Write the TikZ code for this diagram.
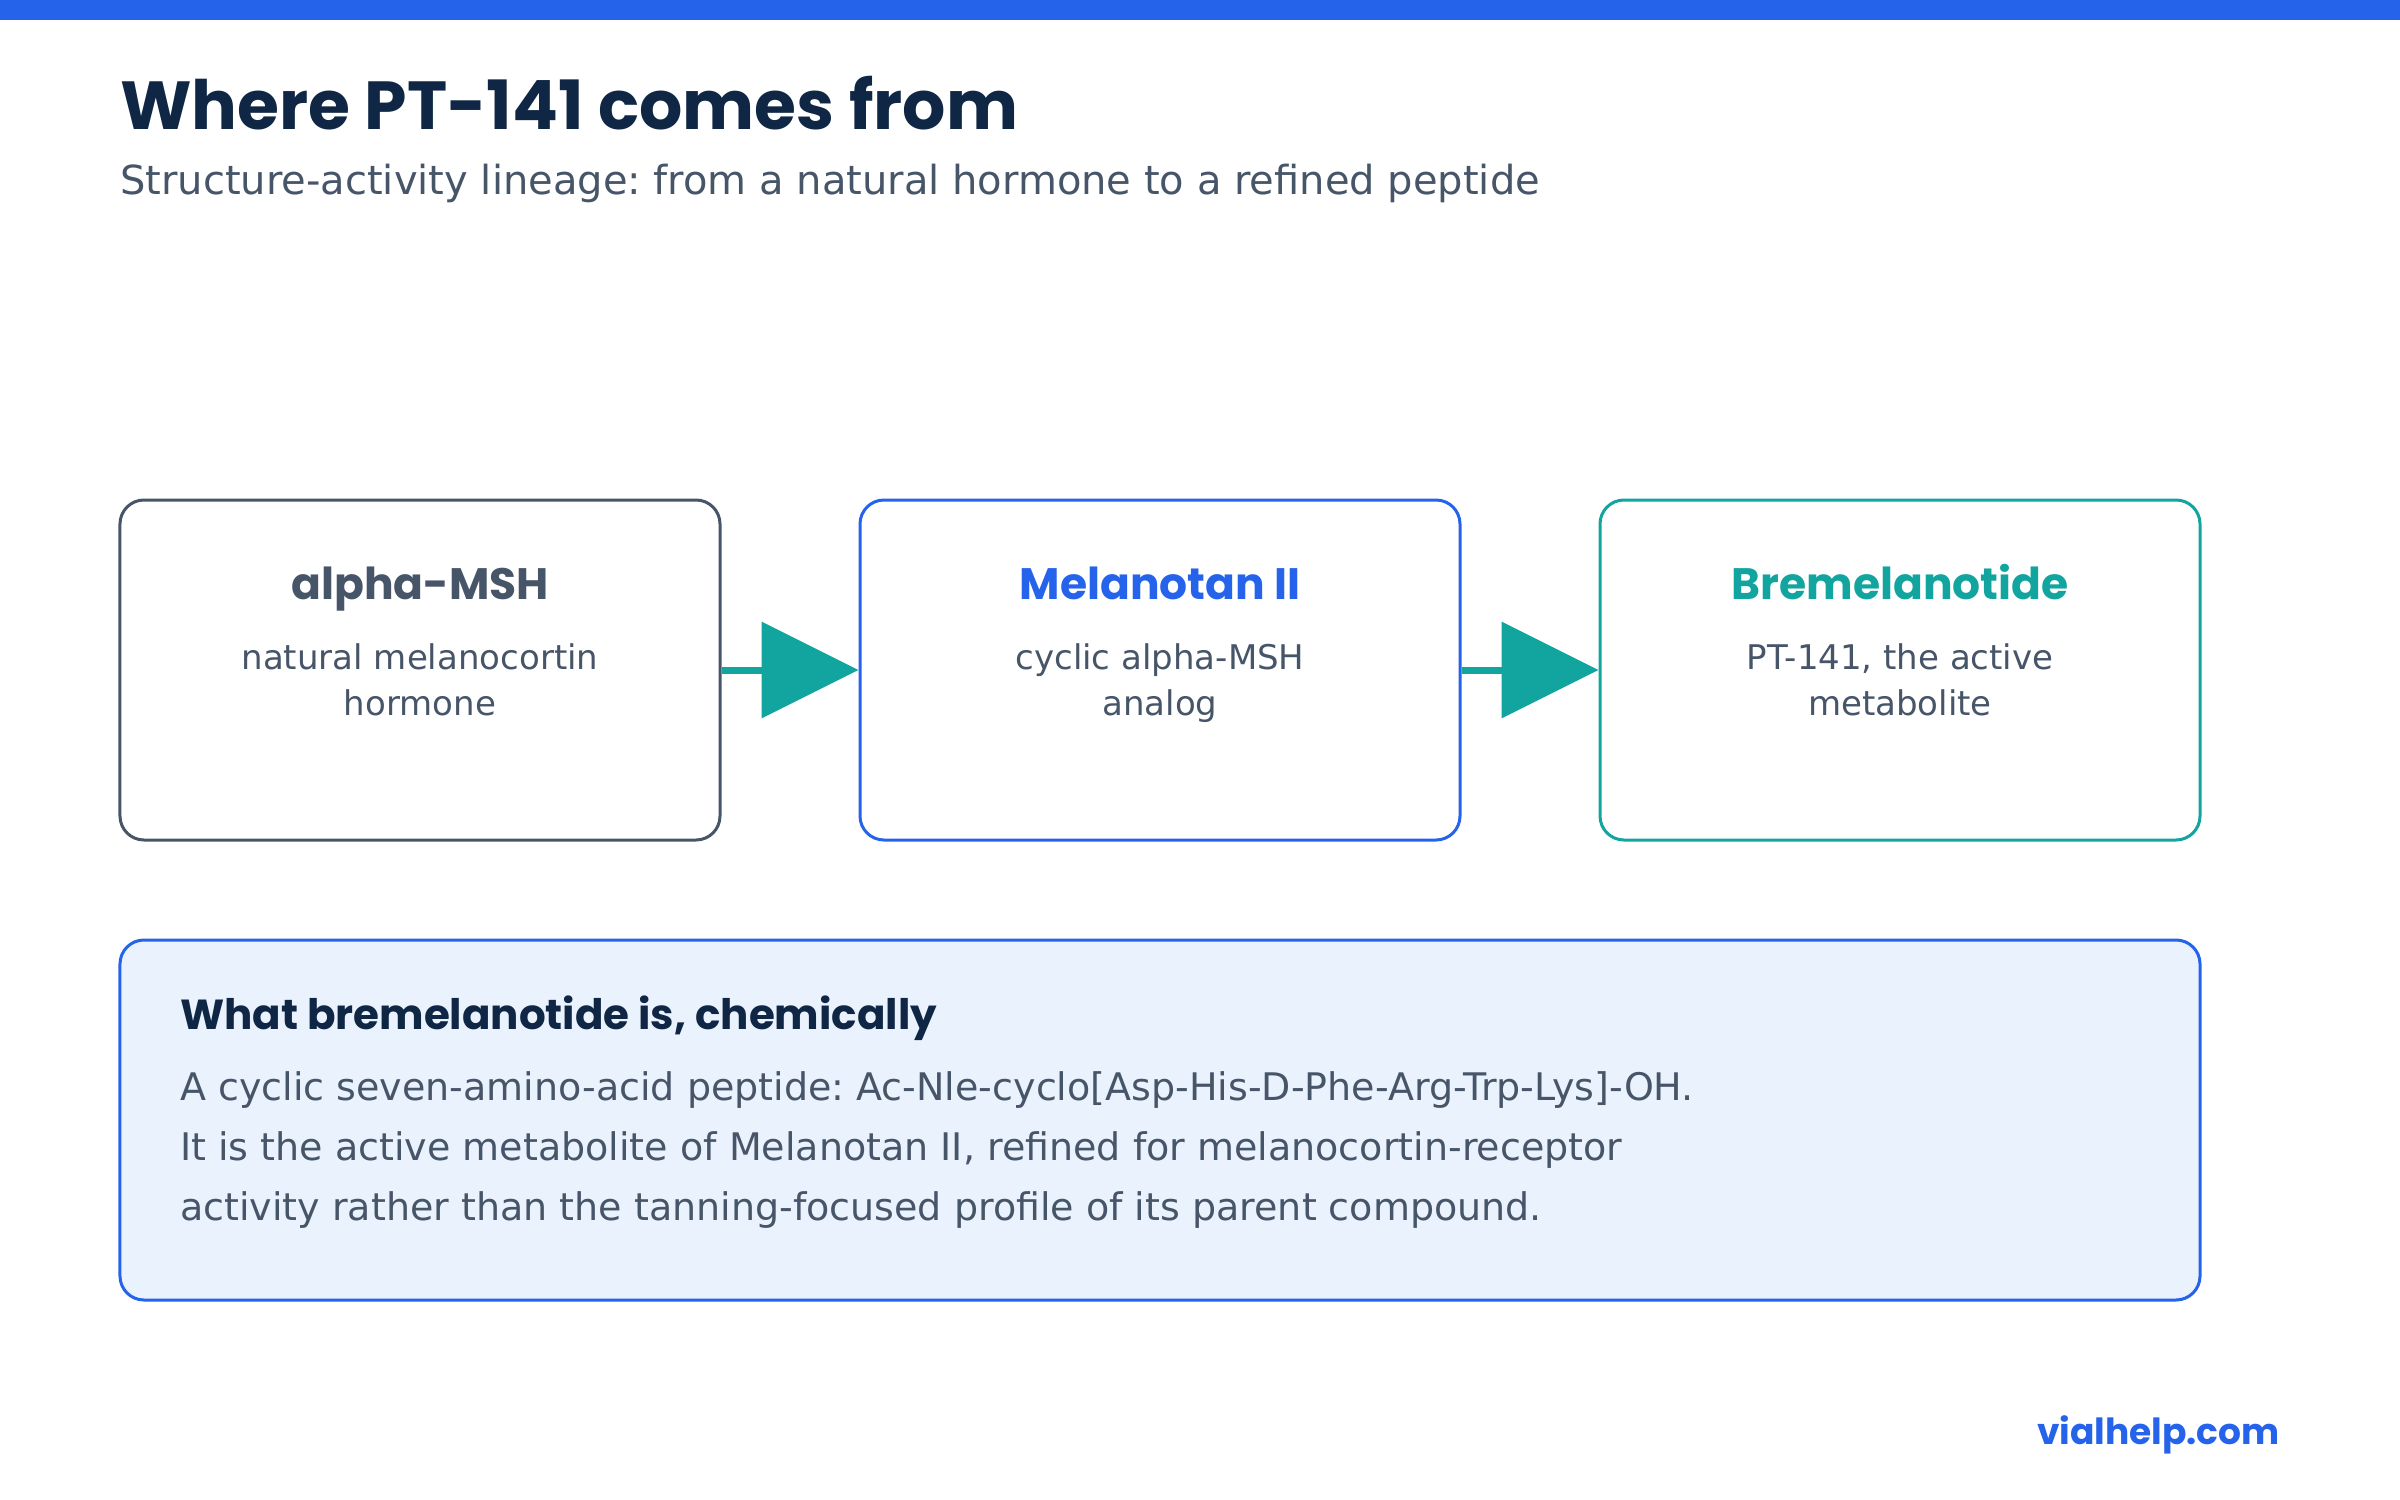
\documentclass[tikz,border=0pt]{standalone}
\usepackage{fontspec}
\setmainfont{DejaVu Sans}
\newfontfamily\pop{Poppins}
\usetikzlibrary{arrows.meta}
\definecolor{brandblue}{HTML}{2563EB}
\definecolor{slate}{HTML}{475569}
\definecolor{navy}{HTML}{0F2744}
\definecolor{tealc}{HTML}{12A5A0}
\definecolor{paleblue}{HTML}{EAF2FD}
\frenchspacing
\tikzset{
  stagebox/.style={draw, line width=3bp, fill=white, rounded corners=24bp,
    minimum width=600bp, minimum height=340bp, inner sep=0pt},
  notebox/.style={draw=brandblue, line width=3bp, fill=paleblue, rounded corners=24bp,
    minimum width=2080bp, minimum height=360bp, inner sep=0pt},
  boxhead/.style={inner sep=0pt, anchor=base, font=\pop\bfseries\fontsize{44bp}{52bp}\selectfont},
  boxbody/.style={inner sep=0pt, anchor=base, text=slate, font=\fontsize{34bp}{40bp}\selectfont},
  notebody/.style={inner sep=0pt, anchor=base west, text=slate, font=\fontsize{38bp}{44bp}\selectfont},
  flowarrow/.style={draw=tealc, line width=7bp, -{Triangle[length=97bp,width=95bp]}},
}
\begin{document}
\begin{tikzpicture}[x=1bp,y=-1bp]
\useasboundingbox (0,0) rectangle (2400,1500);
\fill[white] (0,0) rectangle (2400,1500);
\fill[brandblue] (0,0) rectangle (2400,20);
% title
\node[inner sep=0pt, anchor=base west, text=navy, font=\pop\bfseries\fontsize{68bp}{76bp}\selectfont] (title) at (120,130) {Where PT-141 comes from};
\node[inner sep=0pt, anchor=base west, text=slate, font=\fontsize{40bp}{46bp}\selectfont] (subtitle) at (120,195) {Structure-activity lineage: from a natural hormone to a refined peptide};
% stage boxes
\node[stagebox, draw=slate] (msh) at (420,670) {};
\node[stagebox, draw=brandblue] (mt2) at (1160,670) {};
\node[stagebox, draw=tealc] (pt) at (1900,670) {};
\draw[flowarrow] (msh.east) -- (mt2.west);
\draw[flowarrow] (mt2.east) -- (pt.west);
% stage texts
\node[boxhead, text=slate] (mshH) at (420,599) {alpha-MSH};
\node[boxbody] (mshL1) at (420,669) {natural melanocortin};
\node[boxbody] (mshL2) at (420,715) {hormone};
\node[boxhead, text=brandblue] (mt2H) at (1160,599) {Melanotan II};
\node[boxbody] (mt2L1) at (1160,669) {cyclic alpha-MSH};
\node[boxbody] (mt2L2) at (1160,715) {analog};
\node[boxhead, text=tealc] (ptH) at (1900,599) {Bremelanotide};
\node[boxbody] (ptL1) at (1900,669) {PT-141, the active};
\node[boxbody] (ptL2) at (1900,715) {metabolite};
% note box
\node[notebox] (note) at (1160,1120) {};
\node[inner sep=0pt, anchor=base west, text=navy, font=\pop\bfseries\fontsize{42bp}{50bp}\selectfont] (noteH) at (180,1029) {What bremelanotide is, chemically};
\node[notebody] (noteL1) at (180,1100) {A cyclic seven-amino-acid peptide: Ac-Nle-cyclo[Asp-His-D-Phe-Arg-Trp-Lys]-OH.};
\node[notebody] (noteL2) at (180,1160) {It is the active metabolite of Melanotan II, refined for melanocortin-receptor};
\node[notebody] (noteL3) at (180,1220) {activity rather than the tanning-focused profile of its parent compound.};
% footer
\node[inner sep=0pt, anchor=base east, text=brandblue, font=\pop\bfseries\fontsize{36bp}{44bp}\selectfont] (footer) at (2280,1444) {vialhelp.com};
\end{tikzpicture}
\end{document}
